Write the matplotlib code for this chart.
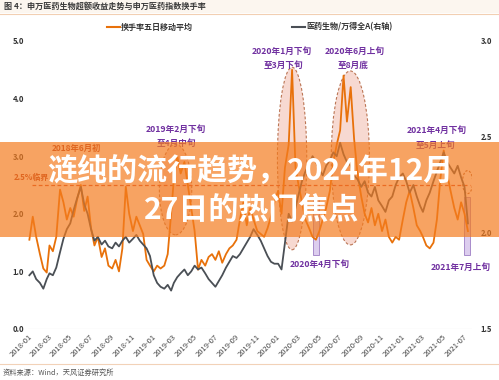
import matplotlib
matplotlib.use("Agg")
import matplotlib.pyplot as plt
import matplotlib.dates as mdates
import matplotlib.patches as mpatches
from matplotlib.lines import Line2D
import numpy as np
import pandas as pd

plt.rcParams['font.family'] = ['Noto Sans CJK SC', 'DejaVu Sans']

# ---------------- data ----------------
months = pd.date_range('2018-01-01', '2021-07-01', freq='MS')
days_in_month = [5, 15, 25]

turnover = [
    1.55, 1.95, 1.60,   # 2018-01
    1.30, 1.05, 0.98,   # 2018-02
    1.45, 1.35, 1.60,   # 2018-03
    2.42, 2.20, 1.90,   # 2018-04
    2.10, 1.95, 2.25,   # 2018-05
    2.50, 2.05, 2.30,   # 2018-06
    1.75, 1.45, 1.60,   # 2018-07
    1.25, 1.40, 1.10,   # 2018-08
    1.05, 1.20, 1.00,   # 2018-09
    1.40, 2.47, 2.00,   # 2018-10
    1.70, 1.95, 1.80,   # 2018-11
    1.65, 1.20, 1.10,   # 2018-12
    1.00, 1.10, 1.05,   # 2019-01
    1.10, 1.30, 2.00,   # 2019-02
    2.60, 3.00, 2.70,   # 2019-03
    2.90, 2.50, 2.10,   # 2019-04
    1.70, 1.03, 1.20,   # 2019-05
    1.10, 1.25, 1.30,   # 2019-06
    1.20, 1.35, 1.15,   # 2019-07
    1.30, 1.40, 1.45,   # 2019-08
    1.55, 1.90, 2.20,   # 2019-09
    1.80, 2.10, 1.90,   # 2019-10
    1.70, 1.65, 1.60,   # 2019-11
    1.75, 1.95, 2.20,   # 2019-12
    2.40, 2.00, 2.80,   # 2020-01
    3.20, 4.50, 2.80,   # 2020-02
    2.50, 2.20, 1.90,   # 2020-03
    1.75, 1.60, 1.55,   # 2020-04
    1.70, 1.90, 2.10,   # 2020-05
    2.40, 2.90, 3.20,   # 2020-06
    3.45, 4.40, 3.60,   # 2020-07
    4.20, 3.30, 2.70,   # 2020-08
    2.30, 2.00, 1.85,   # 2020-09
    2.10, 1.80, 2.00,   # 2020-10
    1.70, 1.90, 1.60,   # 2020-11
    1.50, 1.60, 1.55,   # 2020-12
    1.90, 2.20, 2.40,   # 2021-01
    2.10, 1.80, 1.70,   # 2021-02
    1.60, 1.45, 1.40,   # 2021-03
    1.50, 1.90, 2.60,   # 2021-04
    3.10, 2.70, 2.40,   # 2021-05
    2.10, 1.90, 2.20,   # 2021-06
    2.00, 1.70,         # 2021-07
]

relative = [
    1.78, 1.80, 1.76,   # 2018-01
    1.74, 1.71, 1.76,   # 2018-02
    1.79, 1.78, 1.82,   # 2018-03
    1.90, 1.97, 2.02,   # 2018-04
    2.05, 2.12, 2.18,   # 2018-05
    2.24, 2.15, 2.10,   # 2018-06
    2.02, 1.96, 1.98,   # 2018-07
    1.94, 1.96, 1.93,   # 2018-08
    1.92, 1.95, 1.93,   # 2018-09
    1.96, 1.98, 1.95,   # 2018-10
    1.97, 1.99, 1.96,   # 2018-11
    1.94, 1.92, 1.88,   # 2018-12
    1.78, 1.74, 1.72,   # 2019-01
    1.71, 1.73, 1.70,   # 2019-02
    1.74, 1.77, 1.79,   # 2019-03
    1.81, 1.78, 1.80,   # 2019-04
    1.83, 1.81, 1.82,   # 2019-05
    1.79, 1.76, 1.74,   # 2019-06
    1.72, 1.75, 1.78,   # 2019-07
    1.82, 1.85, 1.88,   # 2019-08
    1.87, 1.89, 1.92,   # 2019-09
    1.95, 1.98, 2.02,   # 2019-10
    1.99, 1.96, 1.92,   # 2019-11
    1.88, 1.85, 1.84,   # 2019-12
    1.84, 1.81, 1.95,   # 2020-01
    2.10, 2.06, 2.13,   # 2020-02
    2.20, 2.27, 2.32,   # 2020-03
    2.36, 2.40, 2.37,   # 2020-04
    2.33, 2.30, 2.35,   # 2020-05
    2.38, 2.42, 2.40,   # 2020-06
    2.47, 2.41, 2.37,   # 2020-07
    2.35, 2.30, 2.28,   # 2020-08
    2.24, 2.27, 2.21,   # 2020-09
    2.19, 2.24, 2.17,   # 2020-10
    2.14, 2.11, 2.17,   # 2020-11
    2.19, 2.25, 2.29,   # 2020-12
    2.31, 2.27, 2.21,   # 2021-01
    2.25, 2.19, 2.14,   # 2021-02
    2.11, 2.17, 2.21,   # 2021-03
    2.27, 2.32, 2.37,   # 2021-04
    2.42, 2.37, 2.34,   # 2021-05
    2.31, 2.35, 2.29,   # 2021-06
    2.24, 2.05,         # 2021-07
]

dates = [m + pd.Timedelta(days=d - 1) for m in months for d in days_in_month][:len(turnover)]

left_ticks = [0.0, 1.0, 2.0, 3.0, 4.0, 5.0]
right_ticks = [1.5, 2.0, 2.5, 3.0]
x_ticks = pd.date_range('2018-01-01', '2021-07-01', freq='2MS')

title = '图 4：申万医药生物超额收益走势与申万医药指数换手率'
series_names = ['换手率五日移动平均', '医药生物/万得全A(右轴)']
source = '资料来源：Wind，天风证券研究所'
banner_lines = ['涟纯的流行趋势，2024年12月', '27日的热门焦点']

ORANGE = '#E8710A'
GRAY = '#4A4F55'
PURPLE = '#7030A0'
RED = '#D9452B'

W, H = 499, 380
fig = plt.figure(figsize=(W / 100, H / 100), dpi=100)
fig.patch.set_facecolor('white')

def fx(px):
    return px / W

def fy(py):
    return 1 - py / H

# axes
x0, x1, ytop, ybot = 28, 472, 41, 329
ax = fig.add_axes([fx(x0), fy(ybot), fx(x1 - x0), (ybot - ytop) / H])
ax2 = ax.twinx()

start = pd.Timestamp('2018-01-01')
end = start + pd.Timedelta(days=1303)
ax.set_xlim(start, end)
ax.set_ylim(0, 5)
ax2.set_ylim(1.5, 3.0)

for a in (ax, ax2):
    for s in a.spines.values():
        s.set_visible(False)
ax.axhline(0, color='#D9D9D9', lw=0.8, zorder=1)

# ellipses
ell_specs = [
    ('2019-03-10', 95, 2.42, 1.57),
    ('2020-02-15', 86, 2.96, 3.17),
    ('2020-08-04', 112, 2.97, 3.02),
]
for c, wd, yc, hh in ell_specs:
    e = mpatches.Ellipse((mdates.date2num(pd.Timestamp(c)), yc), wd, hh,
                         facecolor='#F6D3C9', edgecolor='#B0603A', lw=0.8,
                         ls=(0, (2.5, 1.8)), alpha=0.85, zorder=1)
    ax.add_patch(e)
small = mpatches.Ellipse((mdates.date2num(pd.Timestamp('2021-07-14')), 2.55), 30, 0.4,
                         facecolor='none', edgecolor='#B0603A', lw=0.8, ls=(0, (2, 1.5)), zorder=3)
ax.add_patch(small)

# purple bars
for c in ['2020-04-24', '2021-07-12']:
    r = mpatches.Rectangle((mdates.date2num(pd.Timestamp(c)) - 9, 1.29), 18, 1.0,
                           facecolor='#DCCDEE', edgecolor='#A88CCB', lw=0.7, zorder=2)
    ax.add_patch(r)

# dashed critical line
ax.plot([pd.Timestamp('2018-01-12'), pd.Timestamp('2021-07-20')], [2.5, 2.5],
        color=RED, lw=0.9, ls=(0, (3, 2)), zorder=3)

# lines
ax.plot(dates, turnover, color=ORANGE, lw=1.3, zorder=4)
ax2.plot(dates, relative, color=GRAY, lw=1.3, zorder=4)

# ticks
ax.set_yticks(left_ticks)
ax.set_yticklabels([f'{v:.1f}' for v in left_ticks])
ax2.set_yticks(right_ticks)
ax2.set_yticklabels([f'{v:.1f}' for v in right_ticks])
ax.tick_params(axis='y', length=0, labelsize=5.5, labelcolor='#333333', pad=3)
ax2.tick_params(axis='y', length=0, labelsize=5.5, labelcolor='#333333', pad=6)
ax.set_xticks(x_ticks)
ax.set_xticklabels([d.strftime('%Y-%m') for d in x_ticks], rotation=45,
                   ha='right', va='top', rotation_mode='anchor')
ax.tick_params(axis='x', length=0, labelsize=5.5, labelcolor='#444444', pad=3)
for lab in ax.get_yticklabels() + ax2.get_yticklabels():
    lab.set_fontweight('bold')

# annotations (purple)
def ann(text, px, py, color=PURPLE, size=6.2):
    fig.text(fx(px), fy(py), text, color=color, fontsize=size, fontweight='bold',
             ha='center', va='center', zorder=3)

ann('2019年2月下旬', 176, 129)
ann('至4月中旬', 176, 143)
ann('2020年1月下旬', 282, 51)
ann('至3月下旬', 283, 65)
ann('2020年6月上旬', 355, 51)
ann('至8月底', 353, 65)
ann('2021年4月下旬', 437, 130)
ann('至5月上旬', 435, 145)
ann('2020年4月下旬', 320, 264)
ann('2021年7月上旬', 461, 267)
ann('2018年6月初', 76, 148, color='#B03020', size=6.0)
ann('2.5%临界', 31, 177, color='#B03020', size=5.7)

# title band
fig.patches.append(mpatches.Rectangle((0, fy(13)), 1, 13 / H, transform=fig.transFigure,
                                      facecolor='#FCF6EF', edgecolor='none', zorder=0))
fig.lines.append(Line2D([0, 1], [fy(14), fy(14)], transform=fig.transFigure,
                        color='#F2CFB2', lw=0.8))
fig.text(fx(4), fy(6.5), title, fontsize=5.85, fontweight='bold', color='#3A3A3A',
         ha='left', va='center')

# legend
fig.lines.append(Line2D([fx(107), fx(120)], [fy(27), fy(27)], transform=fig.transFigure,
                        color=ORANGE, lw=1.5))
fig.text(fx(121), fy(27), series_names[0], fontsize=5.8, fontweight='bold', color='#333333',
         ha='left', va='center')
fig.lines.append(Line2D([fx(292), fx(305)], [fy(27), fy(27)], transform=fig.transFigure,
                        color=GRAY, lw=1.5))
fig.text(fx(306), fy(27), series_names[1], fontsize=5.8, fontweight='bold', color='#333333',
         ha='left', va='center')

# bottom rule and source
fig.lines.append(Line2D([0, 1], [fy(364), fy(364)], transform=fig.transFigure,
                        color='#F2D2B8', lw=0.8))
fig.text(fx(3), fy(373), source, fontsize=5.2, color='#555555', ha='left', va='center')

# banner overlay
banner = mpatches.Rectangle((0, fy(237)), 1, (237 - 142) / H, transform=fig.transFigure,
                            facecolor='#F47C1F', alpha=0.7, edgecolor='none', zorder=5)
fig.patches.append(banner)
fig.text(fx(250), fy(172), banner_lines[0], fontsize=21.6, fontweight='bold', color='white',
         ha='center', va='center', zorder=6)
fig.text(fx(252), fy(210), banner_lines[1], fontsize=21.6, fontweight='bold', color='white',
         ha='center', va='center', zorder=6)

fig.savefig('out.png', dpi=100)
